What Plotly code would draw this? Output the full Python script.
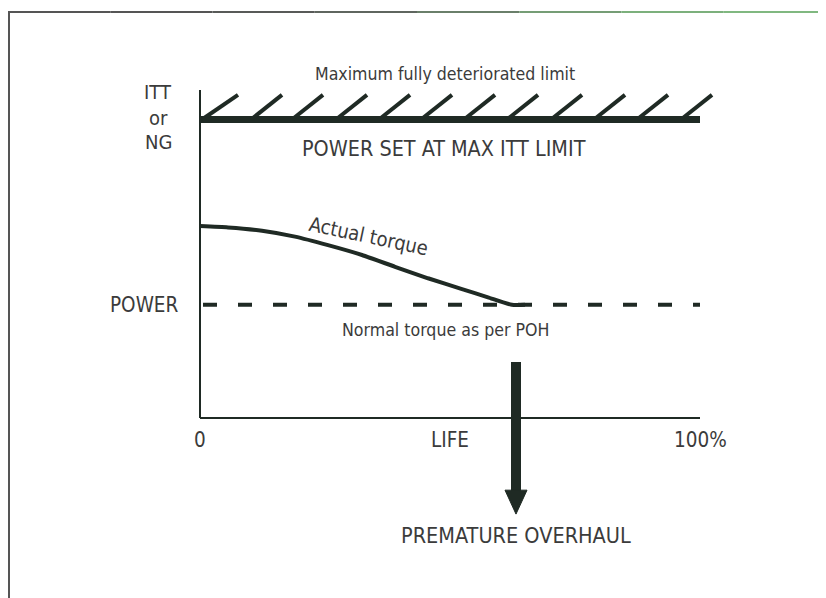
import plotly.graph_objects as go

# ---- data (x: % of life, y: relative ITT/NG/power scale) ----
life_ticks = [0, 50, 100]
life_tick_labels = ["0", "LIFE", "100%"]
limit_level = 91.0            # max ITT limit (thick line)
hatch_top_x = [7.6, 16.4, 24.6, 33.4, 42.0, 50.4, 59.0, 67.6, 76.4, 85.0, 93.6, 102.4]
hatch_top_y = 98.5
hatch_run = 6.2
normal_torque = 34.5          # power per POH (dashed)
actual_x = [0, 5.6, 12.4, 19.0, 25.6, 32.4, 39.0, 45.6, 52.4, 57.6, 62.4, 65.0]
actual_y = [58.5, 58.1, 57.1, 55.3, 52.7, 49.7, 46.1, 42.6, 39.3, 36.8, 34.5, 34.5]
overhaul_x = 63.2
overhaul_shaft = [17.1, -23.0]
overhaul_head = [-22.0, -29.3]
head_half = 2.2
axis_top = 100.0

FONT = "Liberation Sans Narrow, DejaVu Sans Condensed, Roboto Condensed, Arial Narrow, sans-serif"
INK = "#1f2a24"
TXT = "#3b3b3b"

W, H = 826, 598
OFF = 8  # page body margin

fig = go.Figure()

def line(xs, ys, width, color=INK, dash="solid"):
    fig.add_trace(go.Scatter(x=xs, y=ys, mode="lines", hoverinfo="skip",
                             line=dict(color=color, width=width, dash=dash)))

# axes
line([0, 0], [axis_top, 0], 2)
line([0, 100], [0, 0], 2)
# max limit with hatching
line([0, 100], [limit_level, limit_level], 7)
hx, hy = [], []
for i, t in enumerate(hatch_top_x):
    run = hatch_run if i else hatch_run + 1.0
    hx += [t - run, t, None]
    hy += [limit_level, hatch_top_y, None]
line(hx, hy, 4)
# normal torque (dashed)
line([0.6, 100], [normal_torque, normal_torque], 4, dash="14px,21px")
# actual torque
fig.add_trace(go.Scatter(x=actual_x, y=actual_y, mode="lines", hoverinfo="skip",
                         line=dict(color=INK, width=4, shape="spline", smoothing=0.5)))
# premature overhaul arrow
line([overhaul_x, overhaul_x], overhaul_shaft, 10)
fig.add_trace(go.Scatter(x=[overhaul_x - head_half, overhaul_x + head_half, overhaul_x, overhaul_x - head_half],
                         y=[overhaul_head[0], overhaul_head[0], overhaul_head[1], overhaul_head[0]],
                         mode="lines", fill="toself", fillcolor=INK, hoverinfo="skip",
                         line=dict(color=INK, width=1)))

# tick labels
for v, lab in zip(life_ticks, life_tick_labels):
    fig.add_annotation(x=v, y=-6.8, text=lab, showarrow=False,
                       font=dict(family=FONT, size=20.5, color=TXT))

def ann(x, y, text, size, angle=0):
    fig.add_annotation(x=x, y=y, text=text, showarrow=False, textangle=angle,
                       font=dict(family=FONT, size=size, color=TXT))

ann(49, 104.8, "Maximum fully deteriorated limit", 17.6)
ann(48.8, 82.3, "POWER SET AT MAX ITT LIMIT", 21.4)
ann(-8.4, 99.4, "ITT", 20)
ann(-8.4, 91.5, "or", 20)
ann(-8.4, 84.0, "NG", 20)
ann(33.6, 55.4, "Actual torque", 20, 12)
ann(-11.2, 34.5, "POWER", 20.5)
ann(49, 26.8, "Normal torque as per POH", 17.6)
ann(63.2, -35.7, "PREMATURE OVERHAUL", 21.5)

# page frame (grey border fading to green), in figure pixels
def px(xp):
    return (xp - OFF) / W

def py(yp):
    return 1 - (yp - OFF) / H

top = py(12)
shapes = [dict(type="line", xref="paper", yref="paper", x0=px(9), x1=px(9), y0=0, y1=top,
               line=dict(color="#555", width=2))]
cols = ["#555555", "#555555", "#585a58", "#5f665f", "#6a7f6a", "#759d75", "#7cb07c", "#80b880"]
n = len(cols)
for i, c in enumerate(cols):
    shapes.append(dict(type="line", xref="paper", yref="paper",
                       x0=px(8 + i * 818 / n), x1=px(8 + (i + 1) * 818 / n),
                       y0=top, y1=top, line=dict(color=c, width=2)))
shapes.append(dict(type="line", xref="paper", yref="paper", x0=px(823), x1=px(823), y0=0, y1=top,
                   line=dict(color="#e6ece6", width=1)))

# map: x = (screen_px - 200)/5, y = (418 - screen_py)/3.28 ; figure is offset by the page margin
fig.update_layout(
    width=W, height=H, margin=dict(l=0, r=0, t=0, b=0),
    paper_bgcolor="white", plot_bgcolor="white", showlegend=False,
    xaxis=dict(range=[(OFF - 200) / 5, (OFF + W - 200) / 5], visible=False, fixedrange=True),
    yaxis=dict(range=[(418 - (OFF + H)) / 3.28, (418 - OFF) / 3.28], visible=False, fixedrange=True),
    shapes=shapes,
)

fig.write_html("out.html")
